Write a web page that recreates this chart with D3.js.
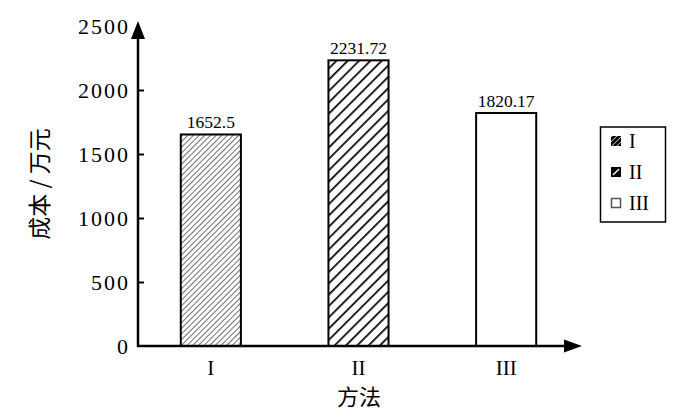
<!DOCTYPE html>
<html><head><meta charset="utf-8">
<script src="https://cdn.jsdelivr.net/npm/d3@7"></script>
<style>body{margin:0;background:#fff}svg{display:block}</style>
</head><body>
<svg id="c" width="700" height="420"></svg>
<script>
const categories = ["I", "II", "III"];
const values = [1652.5, 2231.72, 1820.17];
const valueLabels = ["1652.5", "2231.72", "1820.17"];
const yTicks = [0, 500, 1000, 1500, 2000, 2500];
const fills = ["url(#hatchFine)", "url(#hatchBold)", "#fff"];

const svg = d3.select("#c");
const serif = "'Liberation Serif','Times New Roman',serif";
const cjk = "'Noto Sans CJK SC','Noto Sans',sans-serif";

const defs = svg.append("defs");
const p1 = defs.append("pattern").attr("id","hatchFine").attr("patternUnits","userSpaceOnUse")
  .attr("width",4).attr("height",4).attr("patternTransform","rotate(45)");
p1.append("rect").attr("width",4).attr("height",4).attr("fill","#fff");
p1.append("line").attr("x1",0).attr("y1",0).attr("x2",0).attr("y2",4).attr("stroke","#222").attr("stroke-width",1.3);
const p2 = defs.append("pattern").attr("id","hatchBold").attr("patternUnits","userSpaceOnUse")
  .attr("width",8).attr("height",8).attr("patternTransform","rotate(45)");
p2.append("rect").attr("width",8).attr("height",8).attr("fill","#fff");
p2.append("line").attr("x1",0).attr("y1",0).attr("x2",0).attr("y2",8).attr("stroke","#000").attr("stroke-width",3.4);
const p3 = defs.append("pattern").attr("id","hatchLeg").attr("patternUnits","userSpaceOnUse")
  .attr("width",3.5).attr("height",3.5).attr("patternTransform","rotate(45)");
p3.append("rect").attr("width",3.5).attr("height",3.5).attr("fill","#000");
p3.append("line").attr("x1",0).attr("y1",0).attr("x2",0).attr("y2",3.5).attr("stroke","#fff").attr("stroke-width",1.2);

const x0 = 137, x1 = 580, yBase = 346;
const x = d3.scaleBand().domain(categories).range([x0, x1]).paddingInner(0.593).paddingOuter(0.2965);
const y = d3.scaleLinear().domain([0, 2500]).range([yBase, 26]);

// bars
svg.selectAll("rect.bar").data(values).enter().append("rect")
  .attr("x", (d,i) => x(categories[i]))
  .attr("y", d => y(d))
  .attr("width", x.bandwidth())
  .attr("height", d => yBase - y(d))
  .attr("fill", (d,i) => fills[i])
  .attr("stroke", "#000").attr("stroke-width", 2);

svg.selectAll("text.val").data(values).enter().append("text")
  .attr("x", (d,i) => x(categories[i]) + x.bandwidth()/2)
  .attr("y", d => y(d) - 6.5)
  .attr("text-anchor","middle").attr("font-family", serif).attr("font-size", 17.5)
  .text((d,i) => valueLabels[i]);

// y axis
const yAxis = d3.axisLeft(y).tickValues(yTicks).tickSize(-6).tickPadding(8).tickFormat(d3.format("d"));
const gy = svg.append("g").attr("transform", `translate(${x0+1},0)`).call(yAxis);
gy.select(".domain").remove();
gy.selectAll(".tick line").attr("stroke","#000").attr("stroke-width",2);
gy.selectAll(".tick").filter(d => d === 0 || d === 2500).select("line").remove();
gy.selectAll("text").attr("font-family", serif).attr("font-size", 22).attr("letter-spacing", 2).attr("fill","#000");
svg.append("line").attr("x1", x0+1).attr("x2", x0+1).attr("y1", yBase+1).attr("y2", 36)
  .attr("stroke","#000").attr("stroke-width",2.5);
svg.append("path").attr("d", `M${x0+1},21 L${x0+8},39 L${x0-6},39 Z`).attr("fill","#000");

// x axis
const xAxis = d3.axisBottom(x).tickSize(0).tickPadding(14);
const gx = svg.append("g").attr("transform", `translate(0,${yBase})`).call(xAxis);
gx.select(".domain").remove();
gx.selectAll("text").attr("font-family", serif).attr("font-size", 21).attr("fill","#000");
svg.append("line").attr("x1", x0).attr("x2", 568).attr("y1", yBase).attr("y2", yBase)
  .attr("stroke","#000").attr("stroke-width",2.5);
svg.append("path").attr("d", `M582,${yBase} L564,${yBase-6.5} L564,${yBase+6.5} Z`).attr("fill","#000");

// axis titles
svg.append("text").attr("x", 359).attr("y", 405).attr("text-anchor","middle")
  .attr("font-family", cjk).attr("font-size", 22).text("方法");
svg.append("text").attr("transform","translate(48,184) rotate(-90)").attr("text-anchor","middle")
  .attr("font-family", cjk).attr("font-size", 23).text("成本 / 万元");

// legend
const lg = svg.append("g");
lg.append("rect").attr("x",600.5).attr("y",127).attr("width",65).attr("height",95)
  .attr("fill","#fff").attr("stroke","#000").attr("stroke-width",1.5);
categories.forEach((c,i) => {
  const cy = 141 + i*31;
  if (i === 1) {
    lg.append("rect").attr("x",611).attr("y",cy-5).attr("width",10).attr("height",10).attr("fill","#000");
    lg.append("line").attr("x1",613).attr("y1",cy+3).attr("x2",619).attr("y2",cy-3).attr("stroke","#fff").attr("stroke-width",1.5);
  } else if (i === 0) {
    lg.append("rect").attr("x",611).attr("y",cy-5).attr("width",10).attr("height",10).attr("fill","url(#hatchLeg)");
  } else {
    lg.append("rect").attr("x",611.5).attr("y",cy-4.5).attr("width",9).attr("height",9)
      .attr("fill","#fff").attr("stroke","#555").attr("stroke-width",1.5);
  }
  lg.append("text").attr("x",629).attr("y",cy+7).attr("font-family",serif).attr("font-size",20).text(c);
});
</script>
</body></html>
